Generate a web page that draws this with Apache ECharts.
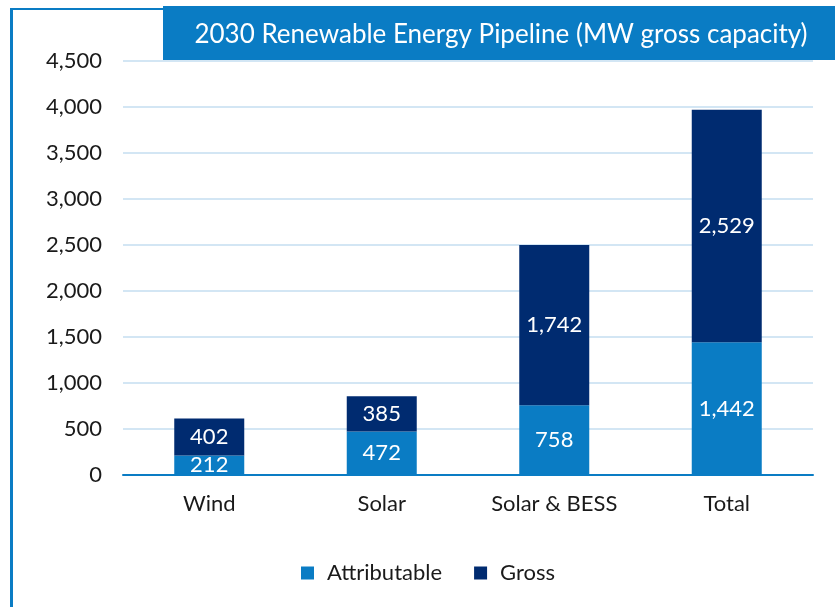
<!DOCTYPE html>
<html>
<head>
<meta charset="utf-8">
<script src="https://cdn.jsdelivr.net/npm/echarts@6/dist/echarts.min.js"></script>
<style>
  html, body { margin: 0; padding: 0; background: #fff; }
  #chart { width: 835px; height: 607px; }
</style>
</head>
<body>
<div id="chart"></div>
<script>
// values
const categories = ["Wind", "Solar", "Solar & BESS", "Total"];
const attributable = [212, 472, 758, 1442];
const gross = [402, 385, 1742, 2529];
const seriesNames = ["Attributable", "Gross"];

const FONT = "Lato";
const LIGHT_BLUE = "#0a7cc4";
const NAVY = "#002b70";
const GRID_LINE = "#d3e6f4";
const TEXT = "#1a1a1a";

const chart = echarts.init(document.getElementById("chart"));
const fmt = (v) => v.toLocaleString("en-US");

const barLabel = {
  show: true, position: "inside", color: "#fff", fontFamily: FONT, fontSize: 22,
  formatter: (p) => fmt(p.value)
};

chart.setOption({
  animation: false,
  textStyle: { fontFamily: FONT },
  graphic: [
    // frame: left edge and short top edge
    { type: "rect", shape: { x: 10, y: 8, width: 3, height: 600 }, style: { fill: LIGHT_BLUE } },
    { type: "rect", shape: { x: 10, y: 8, width: 153, height: 2 }, style: { fill: LIGHT_BLUE } },
    // title box
    { type: "rect", shape: { x: 163, y: 6, width: 672, height: 54 }, style: { fill: LIGHT_BLUE } },
    { type: "text", x: 501, y: 35, style: {
        text: "2030 Renewable Energy Pipeline (MW gross capacity)", fill: "#fff",
        font: "26px " + FONT, textAlign: "center", textVerticalAlign: "middle" } }
  ],
  legend: {
    data: seriesNames, bottom: 18, left: 296, itemWidth: 13, itemHeight: 13, itemGap: 32,
    icon: "rect",
    textStyle: { color: TEXT, fontSize: 22, fontFamily: FONT, padding: [0, 0, 0, 8] }
  },
  grid: { left: 123, right: 22, top: 61, bottom: 132 },
  xAxis: {
    type: "category", data: categories,
    axisLine: { lineStyle: { color: LIGHT_BLUE, width: 2 } },
    axisTick: { show: false },
    axisLabel: { color: TEXT, fontSize: 22, fontFamily: FONT, margin: 18 }
  },
  yAxis: {
    type: "value", min: 0, max: 4500, interval: 500,
    axisLine: { show: false }, axisTick: { show: false },
    axisLabel: { color: TEXT, fontSize: 22, fontFamily: FONT, margin: 21, formatter: fmt },
    splitLine: { lineStyle: { color: GRID_LINE, width: 2 } }
  },
  series: [
    { name: seriesNames[0], type: "bar", stack: "mw", data: attributable, barWidth: 70,
      itemStyle: { color: LIGHT_BLUE }, label: barLabel },
    { name: seriesNames[1], type: "bar", stack: "mw", data: gross, barWidth: 70,
      itemStyle: { color: NAVY }, label: barLabel }
  ]
});
</script>
</body>
</html>
